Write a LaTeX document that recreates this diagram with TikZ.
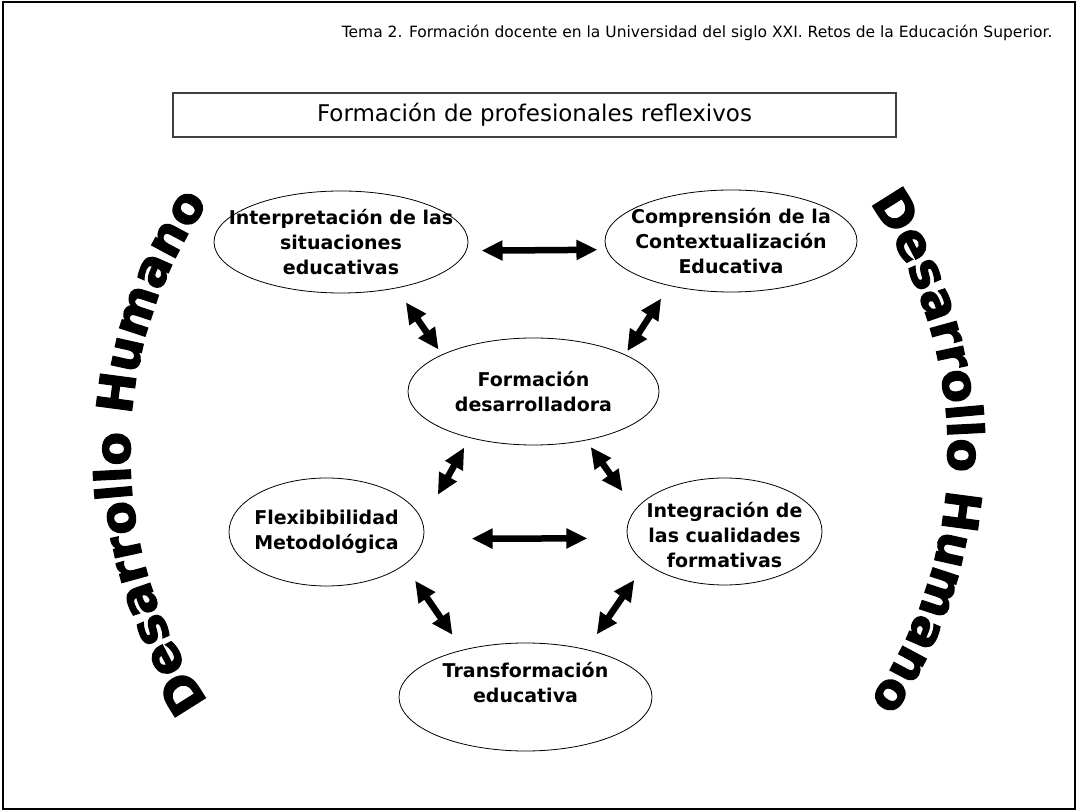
\documentclass[tikz,border=0pt]{standalone}
\usepackage{fontspec}
\setmainfont{DejaVu Sans}
\newfontfamily\heavyfont{DejaVu Sans Bold}[FakeBold=2.5]
\usetikzlibrary{arrows.meta,shapes.geometric,decorations.text}
\newcommand\humfont{\fontsize{49}{49}\selectfont\heavyfont}

\begin{document}
\begin{tikzpicture}[
    x=1pt, y=1pt,
    bubble/.style={ellipse, draw, line width=0.8pt, inner sep=0pt},
    bubtext/.style={align=center, font=\bfseries\fontsize{19}{25}\selectfont},
    dbl/.style={{Triangle[length=21pt,width=19pt]}-{Triangle[length=21pt,width=19pt]}, line width=6.5pt}
  ]
  \useasboundingbox (0,0) rectangle (1078,811);
  \draw[line width=2pt] (3,2) rectangle (1075,809);

  % cabecera y titulo
  \node[anchor=base east, font=\fontsize{15.5}{18}\selectfont] (tema) at (1056,773)
    {Tema 2. Formación docente en la Universidad del siglo XXI. Retos de la Educación Superior.};
  \node[draw=black!75, line width=1.2pt, minimum width=723pt, minimum height=44pt,
    font=\fontsize{23}{27}\selectfont] (titulo) at (534.5,696) {Formación de profesionales reflexivos};

  % elipses
  \node[bubble, minimum width=254pt, minimum height=102pt] (e1) at (341,569) {};
  \node[bubble, minimum width=252pt, minimum height=102pt] (e2) at (731,570) {};
  \node[bubble, minimum width=251pt, minimum height=107pt] (e3) at (533.5,419.5) {};
  \node[bubble, minimum width=195pt, minimum height=108pt] (e4) at (326.5,279) {};
  \node[bubble, minimum width=195pt, minimum height=107pt] (e5) at (724.5,279.5) {};
  \node[bubble, minimum width=253pt, minimum height=108pt] (e6) at (525.5,114) {};

  \node[bubtext] (t1) at (e1) {Interpretación de las\\situaciones\\educativas};
  \node[bubtext] (t2) at (e2) {Comprensión de la\\Contextualización\\Educativa};
  \node[bubtext] (t3) at (e3) {Formación\\desarrolladora};
  \node[bubtext] (t4) at (e4) {Flexibibilidad\\Metodológica};
  \node[bubtext] (t5) at ([yshift=-4pt]e5.center) {Integración de\\las cualidades\\formativas};
  \node[bubtext] (t6) at ([yshift=14pt]e6.center) {Transformación\\educativa};

  % flechas dobles
  \path[dbl]
    (e1.-4) edge[shorten <=15pt, shorten >=9pt] (e2.184)
    (e1.-40) edge[shorten <=17pt, shorten >=6pt] (e3.158)
    (e2.-144) edge[shorten <=15pt, shorten >=4pt] (e3.22)
    (e3.216) edge[shorten <=11pt, shorten >=31pt] (e4.6)
    (e3.-43) edge[shorten <=8pt, shorten >=22pt] (e5.166)
    (e4.-4) edge[shorten <=48pt, shorten >=40pt] (e5.184)
    (e4.-23) edge[shorten <=19pt, shorten >=18pt] (e6.143)
    (e5.202) edge[shorten <=20pt, shorten >=18pt] (e6.38);

  % texto curvo a ambos lados
  \coordinate (lc) at (567,359);
  \coordinate (rc) at (511,359);
  \path[decorate, decoration={text along path, text align=center,
      text={|\humfont|Desarrollo Humano}}]
    (lc) ++(218:437) arc[start angle=218, end angle=142, radius=437];
  \path[decorate, decoration={text along path, text align=center,
      text={|\humfont|Desarrollo Humano}}]
    (rc) ++(38:437) arc[start angle=38, end angle=-38, radius=437];
\end{tikzpicture}
\end{document}
